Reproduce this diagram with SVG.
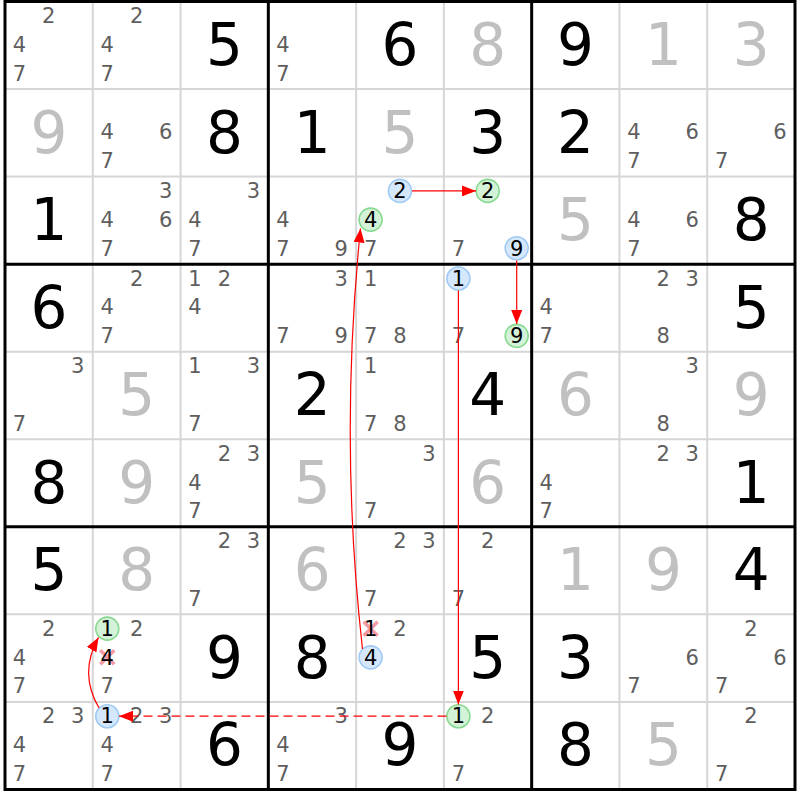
<svg xmlns="http://www.w3.org/2000/svg" width="800" height="800" viewBox="0 0 800 800">
<style>
text{font-family:"DejaVu Sans","Liberation Sans",sans-serif;text-anchor:middle}
.g{font-size:58px;fill:#000}
.s{font-size:58px;fill:#c0c0c0}
.p{font-size:21px;fill:#5e5e5e}
.k{font-size:21px;fill:#000}
.cb{fill:#d5e7fb;stroke:#9fcaf4;stroke-width:1.6}
.cg{fill:#d3f2d7;stroke:#86d98f;stroke-width:1.6}
.x{stroke:#f59aa4;stroke-width:3.5;fill:none}
.thin{stroke:#d6d6d6;stroke-width:2}
.thick{stroke:#000;stroke-width:3}
.lnk{stroke:#ff0000;stroke-width:1.2;fill:none}
</style>
<defs>
<marker id="ah" markerWidth="14" markerHeight="11" refX="14" refY="5.5" orient="auto" markerUnits="userSpaceOnUse"><path d="M0,0 L14,5.5 L0,11 z" fill="#ff0000"/></marker>
</defs>
<rect width="800" height="800" fill="#fff"/>
<g id="grid">
<path class="thin" d="M92.78,1.5V789.5M180.56,1.5V789.5M356.11,1.5V789.5M443.89,1.5V789.5M619.44,1.5V789.5M707.22,1.5V789.5M5,89.05H795M5,176.6H795M5,351.7H795M5,439.25H795M5,614.35H795M5,701.9H795"/>
<path class="thick" d="M268.33,1.5V789.5M531.67,1.5V789.5M5,264.15H795M5,526.8H795"/>
<rect class="thick" x="5" y="1.5" width="790" height="788" fill="none"/>
</g>
<g id="cells">
<!-- row 1 -->
<g id="r1c1" transform="translate(5,1.5)"><text class="p" x="43.8" y="21.6">2</text><text class="p" x="14.5" y="50.3">4</text><text class="p" x="14.5" y="79">7</text></g>
<g id="r1c2" transform="translate(92.78,1.5)"><text class="p" x="43.8" y="21.6">2</text><text class="p" x="14.5" y="50.3">4</text><text class="p" x="14.5" y="79">7</text></g>
<g id="r1c3" transform="translate(180.56,1.5)"><text class="g" x="43.9" y="63.5">5</text></g>
<g id="r1c4" transform="translate(268.33,1.5)"><text class="p" x="14.5" y="50.3">4</text><text class="p" x="14.5" y="79">7</text></g>
<g id="r1c5" transform="translate(356.11,1.5)"><text class="g" x="43.9" y="63.5">6</text></g>
<g id="r1c6" transform="translate(443.89,1.5)"><text class="s" x="43.9" y="63.5">8</text></g>
<g id="r1c7" transform="translate(531.67,1.5)"><text class="g" x="43.9" y="63.5">9</text></g>
<g id="r1c8" transform="translate(619.44,1.5)"><text class="s" x="43.9" y="63.5">1</text></g>
<g id="r1c9" transform="translate(707.22,1.5)"><text class="s" x="43.9" y="63.5">3</text></g>
<!-- row 2 -->
<g id="r2c1" transform="translate(5,89.05)"><text class="s" x="43.9" y="63.5">9</text></g>
<g id="r2c2" transform="translate(92.78,89.05)"><text class="p" x="14.5" y="50.3">4</text><text class="p" x="72.8" y="50.3">6</text><text class="p" x="14.5" y="79">7</text></g>
<g id="r2c3" transform="translate(180.56,89.05)"><text class="g" x="43.9" y="63.5">8</text></g>
<g id="r2c4" transform="translate(268.33,89.05)"><text class="g" x="43.9" y="63.5">1</text></g>
<g id="r2c5" transform="translate(356.11,89.05)"><text class="s" x="43.9" y="63.5">5</text></g>
<g id="r2c6" transform="translate(443.89,89.05)"><text class="g" x="43.9" y="63.5">3</text></g>
<g id="r2c7" transform="translate(531.67,89.05)"><text class="g" x="43.9" y="63.5">2</text></g>
<g id="r2c8" transform="translate(619.44,89.05)"><text class="p" x="14.5" y="50.3">4</text><text class="p" x="72.8" y="50.3">6</text><text class="p" x="14.5" y="79">7</text></g>
<g id="r2c9" transform="translate(707.22,89.05)"><text class="p" x="72.8" y="50.3">6</text><text class="p" x="14.5" y="79">7</text></g>
<!-- row 3 -->
<g id="r3c1" transform="translate(5,176.6)"><text class="g" x="43.9" y="63.5">1</text></g>
<g id="r3c2" transform="translate(92.78,176.6)"><text class="p" x="72.8" y="21.6">3</text><text class="p" x="14.5" y="50.3">4</text><text class="p" x="72.8" y="50.3">6</text><text class="p" x="14.5" y="79">7</text></g>
<g id="r3c3" transform="translate(180.56,176.6)"><text class="p" x="72.8" y="21.6">3</text><text class="p" x="14.5" y="50.3">4</text><text class="p" x="14.5" y="79">7</text></g>
<g id="r3c4" transform="translate(268.33,176.6)"><text class="p" x="14.5" y="50.3">4</text><text class="p" x="14.5" y="79">7</text><text class="p" x="72.8" y="79">9</text></g>
<g id="r3c5" transform="translate(356.11,176.6)"><circle class="cb" cx="43.8" cy="14.3" r="11.5"/><text class="k" x="43.8" y="21.6">2</text><circle class="cg" cx="14.5" cy="43" r="11.5"/><text class="k" x="14.5" y="50.3">4</text><text class="p" x="14.5" y="79">7</text></g>
<g id="r3c6" transform="translate(443.89,176.6)"><circle class="cg" cx="43.8" cy="14.3" r="11.5"/><text class="k" x="43.8" y="21.6">2</text><text class="p" x="14.5" y="79">7</text><circle class="cb" cx="72.8" cy="71.7" r="11.5"/><text class="k" x="72.8" y="79">9</text></g>
<g id="r3c7" transform="translate(531.67,176.6)"><text class="s" x="43.9" y="63.5">5</text></g>
<g id="r3c8" transform="translate(619.44,176.6)"><text class="p" x="14.5" y="50.3">4</text><text class="p" x="72.8" y="50.3">6</text><text class="p" x="14.5" y="79">7</text></g>
<g id="r3c9" transform="translate(707.22,176.6)"><text class="g" x="43.9" y="63.5">8</text></g>
<!-- row 4 -->
<g id="r4c1" transform="translate(5,264.15)"><text class="g" x="43.9" y="63.5">6</text></g>
<g id="r4c2" transform="translate(92.78,264.15)"><text class="p" x="43.8" y="21.6">2</text><text class="p" x="14.5" y="50.3">4</text><text class="p" x="14.5" y="79">7</text></g>
<g id="r4c3" transform="translate(180.56,264.15)"><text class="p" x="14.5" y="21.6">1</text><text class="p" x="43.8" y="21.6">2</text><text class="p" x="14.5" y="50.3">4</text></g>
<g id="r4c4" transform="translate(268.33,264.15)"><text class="p" x="72.8" y="21.6">3</text><text class="p" x="14.5" y="79">7</text><text class="p" x="72.8" y="79">9</text></g>
<g id="r4c5" transform="translate(356.11,264.15)"><text class="p" x="14.5" y="21.6">1</text><text class="p" x="14.5" y="79">7</text><text class="p" x="43.8" y="79">8</text></g>
<g id="r4c6" transform="translate(443.89,264.15)"><circle class="cb" cx="14.5" cy="14.3" r="11.5"/><text class="k" x="14.5" y="21.6">1</text><text class="p" x="14.5" y="79">7</text><circle class="cg" cx="72.8" cy="71.7" r="11.5"/><text class="k" x="72.8" y="79">9</text></g>
<g id="r4c7" transform="translate(531.67,264.15)"><text class="p" x="14.5" y="50.3">4</text><text class="p" x="14.5" y="79">7</text></g>
<g id="r4c8" transform="translate(619.44,264.15)"><text class="p" x="43.8" y="21.6">2</text><text class="p" x="72.8" y="21.6">3</text><text class="p" x="43.8" y="79">8</text></g>
<g id="r4c9" transform="translate(707.22,264.15)"><text class="g" x="43.9" y="63.5">5</text></g>
<!-- row 5 -->
<g id="r5c1" transform="translate(5,351.7)"><text class="p" x="72.8" y="21.6">3</text><text class="p" x="14.5" y="79">7</text></g>
<g id="r5c2" transform="translate(92.78,351.7)"><text class="s" x="43.9" y="63.5">5</text></g>
<g id="r5c3" transform="translate(180.56,351.7)"><text class="p" x="14.5" y="21.6">1</text><text class="p" x="72.8" y="21.6">3</text><text class="p" x="14.5" y="79">7</text></g>
<g id="r5c4" transform="translate(268.33,351.7)"><text class="g" x="43.9" y="63.5">2</text></g>
<g id="r5c5" transform="translate(356.11,351.7)"><text class="p" x="14.5" y="21.6">1</text><text class="p" x="14.5" y="79">7</text><text class="p" x="43.8" y="79">8</text></g>
<g id="r5c6" transform="translate(443.89,351.7)"><text class="g" x="43.9" y="63.5">4</text></g>
<g id="r5c7" transform="translate(531.67,351.7)"><text class="s" x="43.9" y="63.5">6</text></g>
<g id="r5c8" transform="translate(619.44,351.7)"><text class="p" x="72.8" y="21.6">3</text><text class="p" x="43.8" y="79">8</text></g>
<g id="r5c9" transform="translate(707.22,351.7)"><text class="s" x="43.9" y="63.5">9</text></g>
<!-- row 6 -->
<g id="r6c1" transform="translate(5,439.25)"><text class="g" x="43.9" y="63.5">8</text></g>
<g id="r6c2" transform="translate(92.78,439.25)"><text class="s" x="43.9" y="63.5">9</text></g>
<g id="r6c3" transform="translate(180.56,439.25)"><text class="p" x="43.8" y="21.6">2</text><text class="p" x="72.8" y="21.6">3</text><text class="p" x="14.5" y="50.3">4</text><text class="p" x="14.5" y="79">7</text></g>
<g id="r6c4" transform="translate(268.33,439.25)"><text class="s" x="43.9" y="63.5">5</text></g>
<g id="r6c5" transform="translate(356.11,439.25)"><text class="p" x="72.8" y="21.6">3</text><text class="p" x="14.5" y="79">7</text></g>
<g id="r6c6" transform="translate(443.89,439.25)"><text class="s" x="43.9" y="63.5">6</text></g>
<g id="r6c7" transform="translate(531.67,439.25)"><text class="p" x="14.5" y="50.3">4</text><text class="p" x="14.5" y="79">7</text></g>
<g id="r6c8" transform="translate(619.44,439.25)"><text class="p" x="43.8" y="21.6">2</text><text class="p" x="72.8" y="21.6">3</text></g>
<g id="r6c9" transform="translate(707.22,439.25)"><text class="g" x="43.9" y="63.5">1</text></g>
<!-- row 7 -->
<g id="r7c1" transform="translate(5,526.8)"><text class="g" x="43.9" y="63.5">5</text></g>
<g id="r7c2" transform="translate(92.78,526.8)"><text class="s" x="43.9" y="63.5">8</text></g>
<g id="r7c3" transform="translate(180.56,526.8)"><text class="p" x="43.8" y="21.6">2</text><text class="p" x="72.8" y="21.6">3</text><text class="p" x="14.5" y="79">7</text></g>
<g id="r7c4" transform="translate(268.33,526.8)"><text class="s" x="43.9" y="63.5">6</text></g>
<g id="r7c5" transform="translate(356.11,526.8)"><text class="p" x="43.8" y="21.6">2</text><text class="p" x="72.8" y="21.6">3</text><text class="p" x="14.5" y="79">7</text></g>
<g id="r7c6" transform="translate(443.89,526.8)"><text class="p" x="43.8" y="21.6">2</text><text class="p" x="14.5" y="79">7</text></g>
<g id="r7c7" transform="translate(531.67,526.8)"><text class="s" x="43.9" y="63.5">1</text></g>
<g id="r7c8" transform="translate(619.44,526.8)"><text class="s" x="43.9" y="63.5">9</text></g>
<g id="r7c9" transform="translate(707.22,526.8)"><text class="g" x="43.9" y="63.5">4</text></g>
<!-- row 8 -->
<g id="r8c1" transform="translate(5,614.35)"><text class="p" x="43.8" y="21.6">2</text><text class="p" x="14.5" y="50.3">4</text><text class="p" x="14.5" y="79">7</text></g>
<g id="r8c2" transform="translate(92.78,614.35)"><circle class="cg" cx="14.5" cy="14.3" r="11.5"/><text class="k" x="14.5" y="21.6">1</text><text class="p" x="43.8" y="21.6">2</text><path class="x" d="M7.5,36L21.5,50M21.5,36L7.5,50"/><text class="k" x="14.5" y="50.3">4</text><text class="p" x="14.5" y="79">7</text></g>
<g id="r8c3" transform="translate(180.56,614.35)"><text class="g" x="43.9" y="63.5">9</text></g>
<g id="r8c4" transform="translate(268.33,614.35)"><text class="g" x="43.9" y="63.5">8</text></g>
<g id="r8c5" transform="translate(356.11,614.35)"><path class="x" d="M7.5,7.3L21.5,21.3M21.5,7.3L7.5,21.3"/><text class="k" x="14.5" y="21.6">1</text><text class="p" x="43.8" y="21.6">2</text><circle class="cb" cx="14.5" cy="43" r="11.5"/><text class="k" x="14.5" y="50.3">4</text></g>
<g id="r8c6" transform="translate(443.89,614.35)"><text class="g" x="43.9" y="63.5">5</text></g>
<g id="r8c7" transform="translate(531.67,614.35)"><text class="g" x="43.9" y="63.5">3</text></g>
<g id="r8c8" transform="translate(619.44,614.35)"><text class="p" x="72.8" y="50.3">6</text><text class="p" x="14.5" y="79">7</text></g>
<g id="r8c9" transform="translate(707.22,614.35)"><text class="p" x="43.8" y="21.6">2</text><text class="p" x="72.8" y="50.3">6</text><text class="p" x="14.5" y="79">7</text></g>
<!-- row 9 -->
<g id="r9c1" transform="translate(5,701.9)"><text class="p" x="43.8" y="21.6">2</text><text class="p" x="72.8" y="21.6">3</text><text class="p" x="14.5" y="50.3">4</text><text class="p" x="14.5" y="79">7</text></g>
<g id="r9c2" transform="translate(92.78,701.9)"><circle class="cb" cx="14.5" cy="14.3" r="11.5"/><text class="k" x="14.5" y="21.6">1</text><text class="p" x="43.8" y="21.6">2</text><text class="p" x="72.8" y="21.6">3</text><text class="p" x="14.5" y="50.3">4</text><text class="p" x="14.5" y="79">7</text></g>
<g id="r9c3" transform="translate(180.56,701.9)"><text class="g" x="43.9" y="63.5">6</text></g>
<g id="r9c4" transform="translate(268.33,701.9)"><text class="p" x="72.8" y="21.6">3</text><text class="p" x="14.5" y="50.3">4</text><text class="p" x="14.5" y="79">7</text></g>
<g id="r9c5" transform="translate(356.11,701.9)"><text class="g" x="43.9" y="63.5">9</text></g>
<g id="r9c6" transform="translate(443.89,701.9)"><circle class="cg" cx="14.5" cy="14.3" r="11.5"/><text class="k" x="14.5" y="21.6">1</text><text class="p" x="43.8" y="21.6">2</text><text class="p" x="14.5" y="79">7</text></g>
<g id="r9c7" transform="translate(531.67,701.9)"><text class="g" x="43.9" y="63.5">8</text></g>
<g id="r9c8" transform="translate(619.44,701.9)"><text class="s" x="43.9" y="63.5">5</text></g>
<g id="r9c9" transform="translate(707.22,701.9)"><text class="p" x="43.8" y="21.6">2</text><text class="p" x="14.5" y="79">7</text></g>
</g>
<g id="links">
<path class="lnk" marker-end="url(#ah)" d="M412,190.9L476,190.9"/>
<path class="lnk" marker-end="url(#ah)" d="M516.7,260.5L516.7,324"/>
<path class="lnk" marker-end="url(#ah)" d="M458.4,290.5L458.4,704.5"/>
<path class="lnk" marker-end="url(#ah)" d="M362.5,649Q339,440 360.5,228.5"/>
<path class="lnk" marker-end="url(#ah)" stroke-dasharray="9,5" d="M446.5,716.2L119,716.2"/>
<path class="lnk" marker-end="url(#ah)" d="M99,708Q78.5,673 98.5,637.5"/>
</g>
</svg>
